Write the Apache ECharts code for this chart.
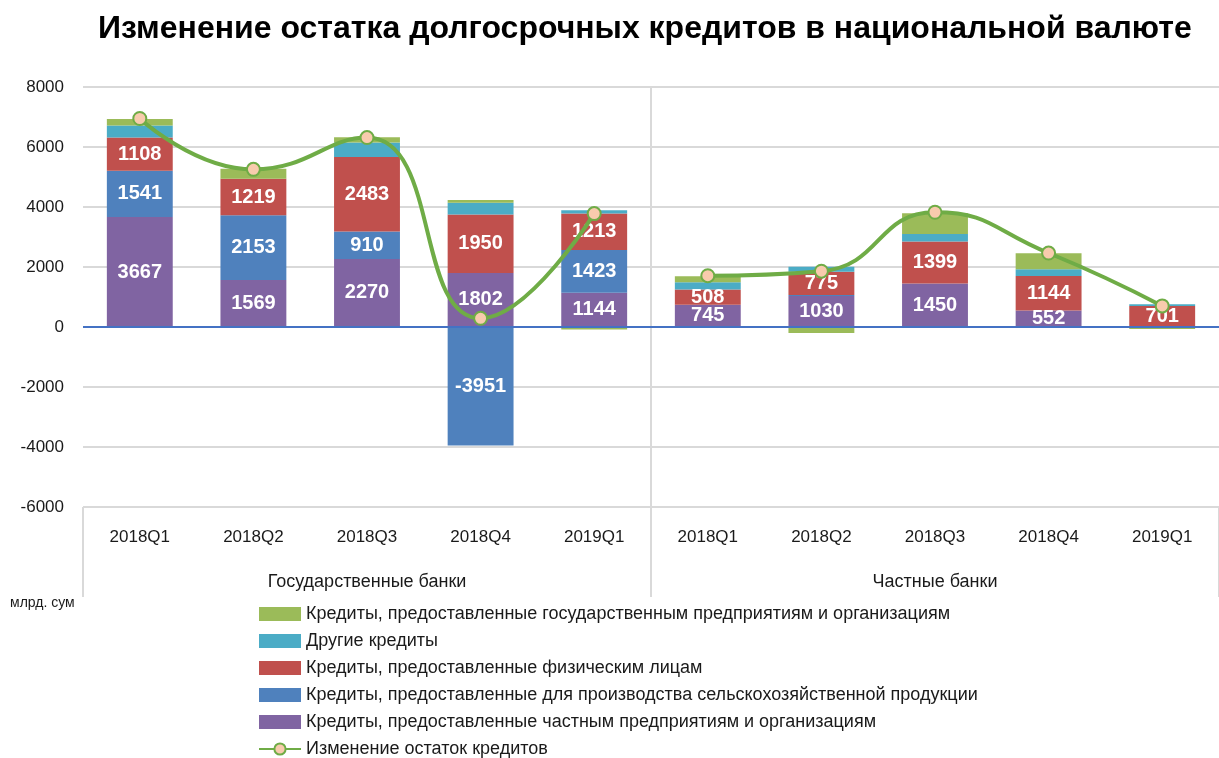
<!DOCTYPE html>
<html>
<head>
<meta charset="utf-8">
<script src="https://cdn.jsdelivr.net/npm/echarts@6/dist/echarts.min.js"></script>
<style>
  html, body { margin: 0; padding: 0; background: #fff; }
  #chart { width: 1219px; height: 758px; }
</style>
</head>
<body>
<div id="chart"></div>
<script>
// quarters, repeated for both bank groups
const quarters = ['2018Q1', '2018Q2', '2018Q3', '2018Q4', '2019Q1',
                  '2018Q1', '2018Q2', '2018Q3', '2018Q4', '2019Q1']
const groups = ['Государственные банки', 'Частные банки']

// series values, bottom of the stack first
const privateFirms = [3667, 1569, 2270, 1802, 1144, 745, 1030, 1450, 552, 0]
const agriculture = [1541, 2153, 910, -3951, 1423, 0, 40, 0, 0, 0]
const individuals = [1108, 1219, 2483, 1950, 1213, 508, 775, 1399, 1144, 701]
const otherLoans = [400, 0, 490, 390, 110, 240, 160, 250, 225, 55]
const stateFirms = [215, 335, 170, 90, -80, 200, -200, 690, 540, -70]
// total change, one line per bank group
const totalStateBanks = [6950, 5255, 6315, 290, 3780, null, null, null, null, null]
const totalPrivateBanks = [null, null, null, null, null, 1710, 1860, 3825, 2466, 703]

const yTicks = { min: -6000, max: 8000, step: 2000 }

const names = {
  state: 'Кредиты, предоставленные государственным предприятиям и организациям',
  other: 'Другие кредиты',
  indiv: 'Кредиты, предоставленные физическим лицам',
  agri: 'Кредиты, предоставленные для производства сельскохозяйственной продукции',
  priv: 'Кредиты, предоставленные частным предприятиям и организациям',
  total: 'Изменение остаток кредитов',
}

const font = 'Liberation Sans, Arial, sans-serif'
const gray = '#d9d9d9'
const ink = '#1a1a1a'
const lineGreen = '#6FAC46'

const barLabel = {
  show: true,
  position: 'inside',
  color: '#fff',
  fontWeight: 'bold',
  fontSize: 20,
  fontFamily: font,
  formatter: (p) => (Math.abs(p.value) >= 300 ? String(p.value) : ''),
}

function bar(name, data, color, withLabel) {
  return {
    name,
    type: 'bar',
    stack: 'loans',
    barWidth: '58%',
    data,
    itemStyle: { color },
    label: withLabel ? barLabel : { show: false },
  }
}

function totalLine(data) {
  return {
    name: names.total,
    type: 'line',
    data,
    smooth: true,
    symbol: 'circle',
    symbolSize: 13,
    z: 5,
    lineStyle: { color: lineGreen, width: 4 },
    itemStyle: { color: '#F8CBAD', borderColor: lineGreen, borderWidth: 2 },
  }
}

const chart = echarts.init(document.getElementById('chart'))

const priv = bar(names.priv, privateFirms, '#8064A2', true)
priv.markLine = {
  silent: true,
  symbol: 'none',
  label: { show: false },
  lineStyle: { color: '#4472C4', width: 2, type: 'solid' },
  data: [{ yAxis: 0 }],
}

chart.setOption({
  animation: false,
  textStyle: { fontFamily: font },
  title: {
    text: 'Изменение остатка долгосрочных кредитов в национальной валюте',
    left: 93,
    top: 8,
    textStyle: { fontSize: 32, fontWeight: 'bold', color: '#000', fontFamily: font },
  },
  grid: { left: 83, top: 87, width: 1146, height: 420 },
  legend: {
    orient: 'vertical',
    left: 253,
    top: 600,
    height: 200,
    itemWidth: 42,
    itemHeight: 14,
    itemGap: 9,
    textStyle: { fontSize: 18, color: ink, fontFamily: font },
    data: [
      { name: names.state, icon: 'rect' },
      { name: names.other, icon: 'rect' },
      { name: names.indiv, icon: 'rect' },
      { name: names.agri, icon: 'rect' },
      { name: names.priv, icon: 'rect' },
      { name: names.total },
    ],
  },
  xAxis: [
    {
      type: 'category',
      data: quarters,
      axisLine: { show: true, onZero: false, lineStyle: { color: gray, width: 1 } },
      axisTick: { show: false },
      axisLabel: { margin: 22, fontSize: 17, color: ink, fontFamily: font },
    },
    {
      type: 'category',
      data: groups,
      position: 'bottom',
      axisLine: { show: false, onZero: false },
      axisTick: { show: true, length: 90, lineStyle: { color: gray, width: 2 } },
      axisLabel: { margin: 66, fontSize: 18, color: ink, fontFamily: font },
      splitLine: { show: false },
    },
  ],
  yAxis: {
    type: 'value',
    min: yTicks.min,
    max: yTicks.max,
    interval: yTicks.step,
    axisLine: { show: false },
    axisTick: { show: false },
    axisLabel: { margin: 19, fontSize: 17, color: ink, fontFamily: font, formatter: (v) => String(v) },
    splitLine: { lineStyle: { color: gray, width: 2 } },
  },
  series: [
    priv,
    bar(names.agri, agriculture, '#4F81BD', true),
    bar(names.indiv, individuals, '#C0504D', true),
    bar(names.other, otherLoans, '#4BACC6', false),
    bar(names.state, stateFirms, '#9BBB59', false),
    totalLine(totalStateBanks),
    totalLine(totalPrivateBanks),
  ],
})

// separator between the two bank groups, placed with the chart's own scales
const xSep = (chart.convertToPixel({ xAxisIndex: 0 }, 4) + chart.convertToPixel({ xAxisIndex: 0 }, 5)) / 2
const yTop = chart.convertToPixel({ yAxisIndex: 0 }, yTicks.max)
const yBottom = chart.convertToPixel({ yAxisIndex: 0 }, yTicks.min)

chart.setOption({
  graphic: [
    {
      type: 'line',
      z: 1,
      shape: { x1: xSep, y1: yTop, x2: xSep, y2: yBottom },
      style: { stroke: gray, lineWidth: 2 },
    },
    {
      type: 'text',
      left: 10,
      top: 596,
      style: { text: 'млрд. сум', fontSize: 14, fill: ink, fontFamily: font },
    },
  ],
})
</script>
</body>
</html>
